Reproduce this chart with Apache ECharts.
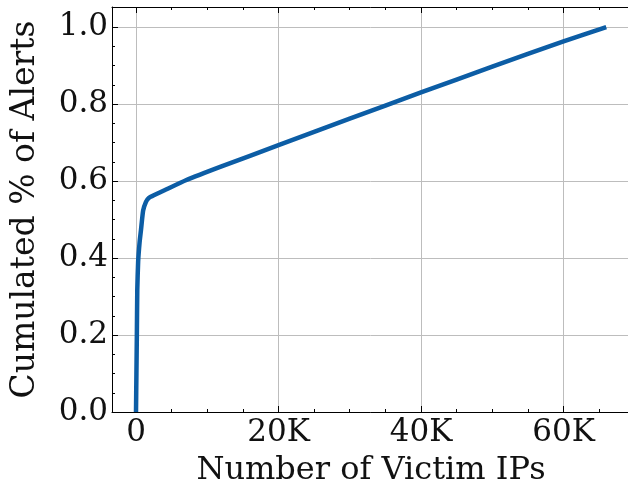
<!DOCTYPE html>
<html>
<head>
<meta charset="utf-8">
<script src="https://cdn.jsdelivr.net/npm/echarts@6/dist/echarts.min.js"></script>
<style>
html,body{margin:0;padding:0;background:#fff;}
#chart{width:628px;height:488px;}
</style>
</head>
<body>
<div id="chart"></div>
<script>
// Data
const victimIPs = [0, 60, 120, 180, 300, 500, 700, 1000, 1400, 1800, 2500, 4000, 7000, 12000, 20000, 30000, 40000, 50000, 60000, 66000];
const cumAlerts = [0, 0.1, 0.2, 0.317, 0.39, 0.44, 0.473, 0.523, 0.546, 0.556, 0.563, 0.576, 0.602, 0.638, 0.693, 0.762, 0.830, 0.897, 0.963, 1.0];
const xMajorTicks = [0, 20000, 40000, 60000];
const xMinorTicks = [5000, 10000, 15000, 25000, 30000, 35000, 45000, 50000, 55000, 65000];
const yMajorTicks = [0, 0.2, 0.4, 0.6, 0.8, 1.0];
const yMinorTicks = [0.05, 0.1, 0.15, 0.25, 0.3, 0.35, 0.45, 0.5, 0.55, 0.65, 0.7, 0.75, 0.85, 0.9, 0.95];
const xTitle = 'Number of Victim IPs';
const yTitle = 'Cumulated % of Alerts';

const X_MIN = -3368, X_MAX = 69333, Y_MIN = 0, Y_MAX = 1.052;
const FONT = 'DejaVu Serif';
const rect = {left: 112, top: 7, right: -2, bottom: 76, containLabel: false, outerBoundsMode: 'none'};

function xFmt(v){ return v === 0 ? '0' : (v/1000) + 'K'; }

const chart = echarts.init(document.getElementById('chart'), null, {renderer: 'canvas'});
const tickAxis = (extra) => Object.assign({
  type: 'value', silent: true,
  axisLine: {show: false, onZero: false}, axisLabel: {show: false}, splitLine: {show: false},
}, extra);

chart.setOption({
  animation: false,
  backgroundColor: '#fff',
  grid: [
    Object.assign({}, rect),
    Object.assign({}, rect),
  ],
  xAxis: [
    {
      type: 'value', gridIndex: 0, position: 'bottom', min: X_MIN, max: X_MAX,
      minInterval: 20000, maxInterval: 20000,
      axisLine: {show: true, onZero: false, lineStyle: {color: '#000', width: 1}},
      axisTick: {show: true, inside: true, length: 6, customValues: xMajorTicks, lineStyle: {color: '#000'}},
      axisLabel: {customValues: xMajorTicks, formatter: xFmt, fontFamily: FONT, fontSize: 31, color: '#111', margin: 5},
      splitLine: {show: true, lineStyle: {color: '#bdbdbd', width: 1}},
      name: xTitle, nameLocation: 'middle', nameGap: 43,
      nameTextStyle: {fontFamily: FONT, fontSize: 32, color: '#111'}
    },
    {
      type: 'value', gridIndex: 0, position: 'top', min: X_MIN, max: X_MAX,
      axisLine: {show: true, onZero: false, lineStyle: {color: '#000', width: 1}},
      axisTick: {show: true, inside: true, length: 6, customValues: xMajorTicks, lineStyle: {color: '#000'}},
      axisLabel: {show: false}, splitLine: {show: false}
    },
    tickAxis({gridIndex: 1, position: 'bottom', min: X_MIN, max: X_MAX,
      axisTick: {show: true, inside: true, length: 3, customValues: xMinorTicks, lineStyle: {color: '#000'}}}),
    tickAxis({gridIndex: 1, position: 'top', min: X_MIN, max: X_MAX,
      axisTick: {show: true, inside: true, length: 3, customValues: xMinorTicks, lineStyle: {color: '#000'}}}),
  ],
  yAxis: [
    {
      type: 'value', gridIndex: 0, position: 'left', min: Y_MIN, max: Y_MAX, interval: 0.2,
      axisLine: {show: true, onZero: false, lineStyle: {color: '#000', width: 1}},
      axisTick: {show: true, inside: true, length: 6, customValues: yMajorTicks, lineStyle: {color: '#000'}},
      axisLabel: {customValues: yMajorTicks, formatter: v => v.toFixed(1), fontFamily: FONT, fontSize: 31, color: '#111', margin: 4},
      splitLine: {show: true, lineStyle: {color: '#bdbdbd', width: 1}},
      name: yTitle, nameLocation: 'middle', nameGap: 70,
      nameTextStyle: {fontFamily: FONT, fontSize: 33, color: '#111'}
    },
    tickAxis({gridIndex: 1, position: 'left', min: Y_MIN, max: Y_MAX,
      axisTick: {show: true, inside: true, length: 3, customValues: yMinorTicks, lineStyle: {color: '#000'}}}),
  ],
  series: [{
    type: 'line', xAxisIndex: 0, yAxisIndex: 0,
    data: victimIPs.map((x, i) => [x, cumAlerts[i]]),
    showSymbol: false, smooth: 0.15,
    lineStyle: {color: '#0C5DA5', width: 4.5, cap: 'butt', join: 'round'},
    itemStyle: {color: '#0C5DA5'},
    clip: true
  }]
});
</script>
</body>
</html>
